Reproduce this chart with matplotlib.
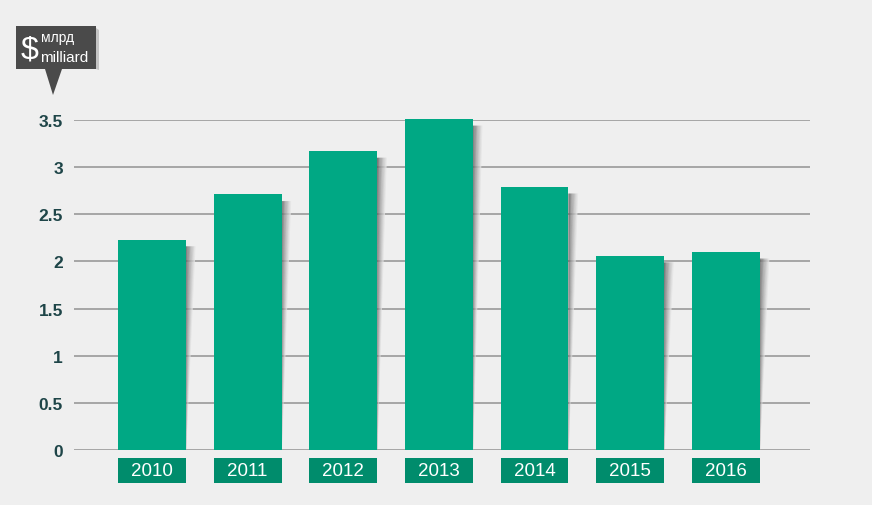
import matplotlib
matplotlib.use("Agg")
import matplotlib.pyplot as plt
from matplotlib.patches import Polygon, Rectangle
from matplotlib.colors import to_rgb
import numpy as np

years = ["2010", "2011", "2012", "2013", "2014", "2015", "2016"]
values = [2.23, 2.71, 3.17, 3.51, 2.79, 2.06, 2.10]
yticks = [0, 0.5, 1, 1.5, 2, 2.5, 3, 3.5]
ytick_labels = ["0", "0.5", "1", "1.5", "2", "2.5", "3", "3.5"]

BG = "#efefef"
BAR = "#00a884"
LAB = "#008c6c"
GRID = "#a0a0a0"
TXT = "#1e4548"

W, H = 872, 506
fig = plt.figure(figsize=(W / 100, H / 100), dpi=100, facecolor=BG)
ax_l, ax_r, ax_b, ax_t = 74, 810, 451, 121
ax = fig.add_axes([ax_l / W, (H - ax_b) / H, (ax_r - ax_l) / W, (ax_b - ax_t) / H])
ax.set_facecolor(BG)
ax.set_ylim(0, 3.5)
ax.set_xlim(-0.815, 6.88)

for s in ax.spines.values():
    s.set_visible(False)
ax.set_yticks(yticks)
ax.set_yticklabels(ytick_labels)
ax.tick_params(axis="y", length=0, pad=8, labelsize=12.5, labelcolor=TXT)
for t in ax.get_yticklabels():
    t.set_fontweight("bold")
    t.set_family("Liberation Sans")
ax.set_xticks([])
for y in yticks:
    ax.axhline(y, color=GRID, lw=1.3, zorder=1)

x = np.arange(len(years))
bw = 0.71
# shadows: opaque strips fading from dark gray to background
sh_w = 0.1
n = 12
dark = np.array(to_rgb("#5a5a5a"))
bg = np.array(to_rgb(BG))
for xi, v in zip(x, values):
    xr = xi + bw / 2
    top = v - 0.07
    for k in range(n):
        f0 = k / n
        f1 = (k + 1) / n
        t = f0 ** 0.8
        col = dark * (1 - t) + bg * t
        poly = Polygon([[xr + sh_w * f0, top], [xr + sh_w * f1, top],
                        [xr + sh_w * f1 * 0.03, 0], [xr + sh_w * f0 * 0.03, 0]],
                       closed=True, facecolor=col, edgecolor="none", zorder=2)
        ax.add_patch(poly)

ax.bar(x, values, width=bw, color=BAR, zorder=3, clip_on=False)

# year labels
for xi, yr in zip(x, years):
    ax.add_patch(Rectangle((xi - bw / 2, -0.35), bw, 0.265, facecolor=LAB,
                           edgecolor="none", clip_on=False, zorder=3))
    ax.text(xi, -0.2175, yr, ha="center", va="center", color="white",
            fontsize=13.5, family="Liberation Sans", zorder=4, clip_on=False)

# badge
bax = fig.add_axes([0, 0, 1, 1])
bax.set_xlim(0, W)
bax.set_ylim(H, 0)
bax.axis("off")
bax.patch.set_alpha(0)
bax.add_patch(Polygon([[96, 29], [99, 31], [99, 71], [96, 70]], closed=True,
                      facecolor="#c4c4c4", edgecolor="none"))
bax.add_patch(Polygon([[16, 27], [96, 27], [96, 70], [62, 70], [53, 96], [45, 70], [16, 70]],
                      closed=True, facecolor="#4a4a4a", edgecolor="none"))
bax.text(30, 50, "$", color="white", fontsize=23, ha="center", va="center",
         family="Liberation Sans")
bax.text(41, 38, "млрд", color="white", fontsize=10, ha="left", va="center",
         family="Liberation Sans")
bax.text(40, 57.5, "milliard", color="white", fontsize=11, ha="left", va="center",
         family="Liberation Sans")

fig.savefig("out.png", dpi=100, facecolor=BG)
